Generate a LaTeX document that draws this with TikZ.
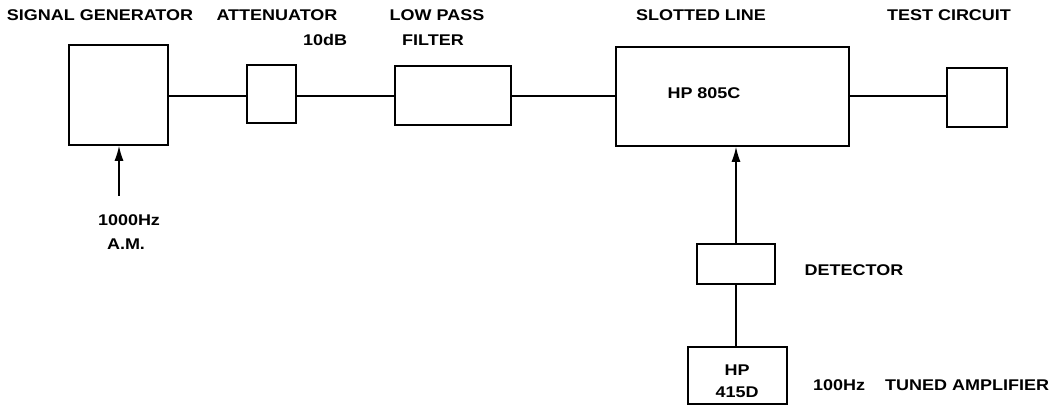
\documentclass[tikz,border=0pt]{standalone}
\usepackage{fontspec}
\setmainfont{Liberation Sans}
\newfontfamily\lblfont[FakeStretch=1.16]{Liberation Sans}
\usetikzlibrary{arrows.meta}
\begin{document}
\begin{tikzpicture}[x=1pt,y=-1pt,
  blk/.style={draw,line width=1.6pt,inner sep=0pt},
  lbl/.style={font=\lblfont\bfseries\fontsize{15.5}{17}\selectfont,inner sep=0pt,anchor=center},
  wire/.style={line width=1.4pt},
  arr/.style={line width=1.4pt,-{Latex[length=15pt,width=9pt]}}]
\useasboundingbox (0,0) rectangle (1054,406);
% boxes
\node[blk,minimum width=99pt,minimum height=100pt] (sg) at (118.5,95) {};
\node[blk,minimum width=49pt,minimum height=58pt] (att) at (271.5,94) {};
\node[blk,minimum width=116pt,minimum height=59pt] (lpf) at (453,95.5) {};
\node[blk,minimum width=233pt,minimum height=99pt] (sl) at (732.5,96.5) {};
\node[blk,minimum width=60pt,minimum height=59pt] (tc) at (977,97.5) {};
\node[blk,minimum width=78pt,minimum height=40pt] (det) at (736,264) {};
\node[blk,minimum width=99pt,minimum height=57pt] (amp) at (737.5,375.5) {};
% texts inside
\node[lbl] (slt) at (704,93) {HP 805C};
\node[lbl] (ampa) at (737,370) {HP};
\node[lbl] (ampb) at (737,392) {415D};
% labels
\node[lbl] (lsg) at (100,15) {SIGNAL GENERATOR};
\node[lbl] (latt) at (277,15) {ATTENUATOR};
\node[lbl] (l10) at (325,40) {10dB};
\node[lbl] (llp1) at (437,15) {LOW PASS};
\node[lbl] (llp2) at (433,40) {FILTER};
\node[lbl] (lsl) at (701,15) {SLOTTED LINE};
\node[lbl] (ltc) at (949,15) {TEST CIRCUIT};
\node[lbl] (lam1) at (129,220) {1000Hz};
\node[lbl] (lam2) at (126,244) {A.M.};
\node[lbl] (ldet) at (854,270) {DETECTOR};
\node[lbl,anchor=west] (lhz) at (813,385) {100Hz};
\node[lbl,anchor=west] (ltun) at (885,385) {TUNED AMPLIFIER};
% connectors
\draw[wire] (sg.east |- 0,96) -- (att.west |- 0,96);
\draw[wire] (att.east |- 0,96) -- (lpf.west |- 0,96);
\draw[wire] (lpf.east |- 0,96) -- (sl.west |- 0,96);
\draw[wire] (sl.east |- 0,96) -- (tc.west |- 0,96);
\coordinate (amsrc) at (119,196);
\draw[arr] (amsrc) -- (amsrc |- sg.south);
\draw[arr] (det.north) -- (det.north |- sl.south);
\draw[wire] (det.south) -- (det.south |- amp.north);
\end{tikzpicture}
\end{document}
